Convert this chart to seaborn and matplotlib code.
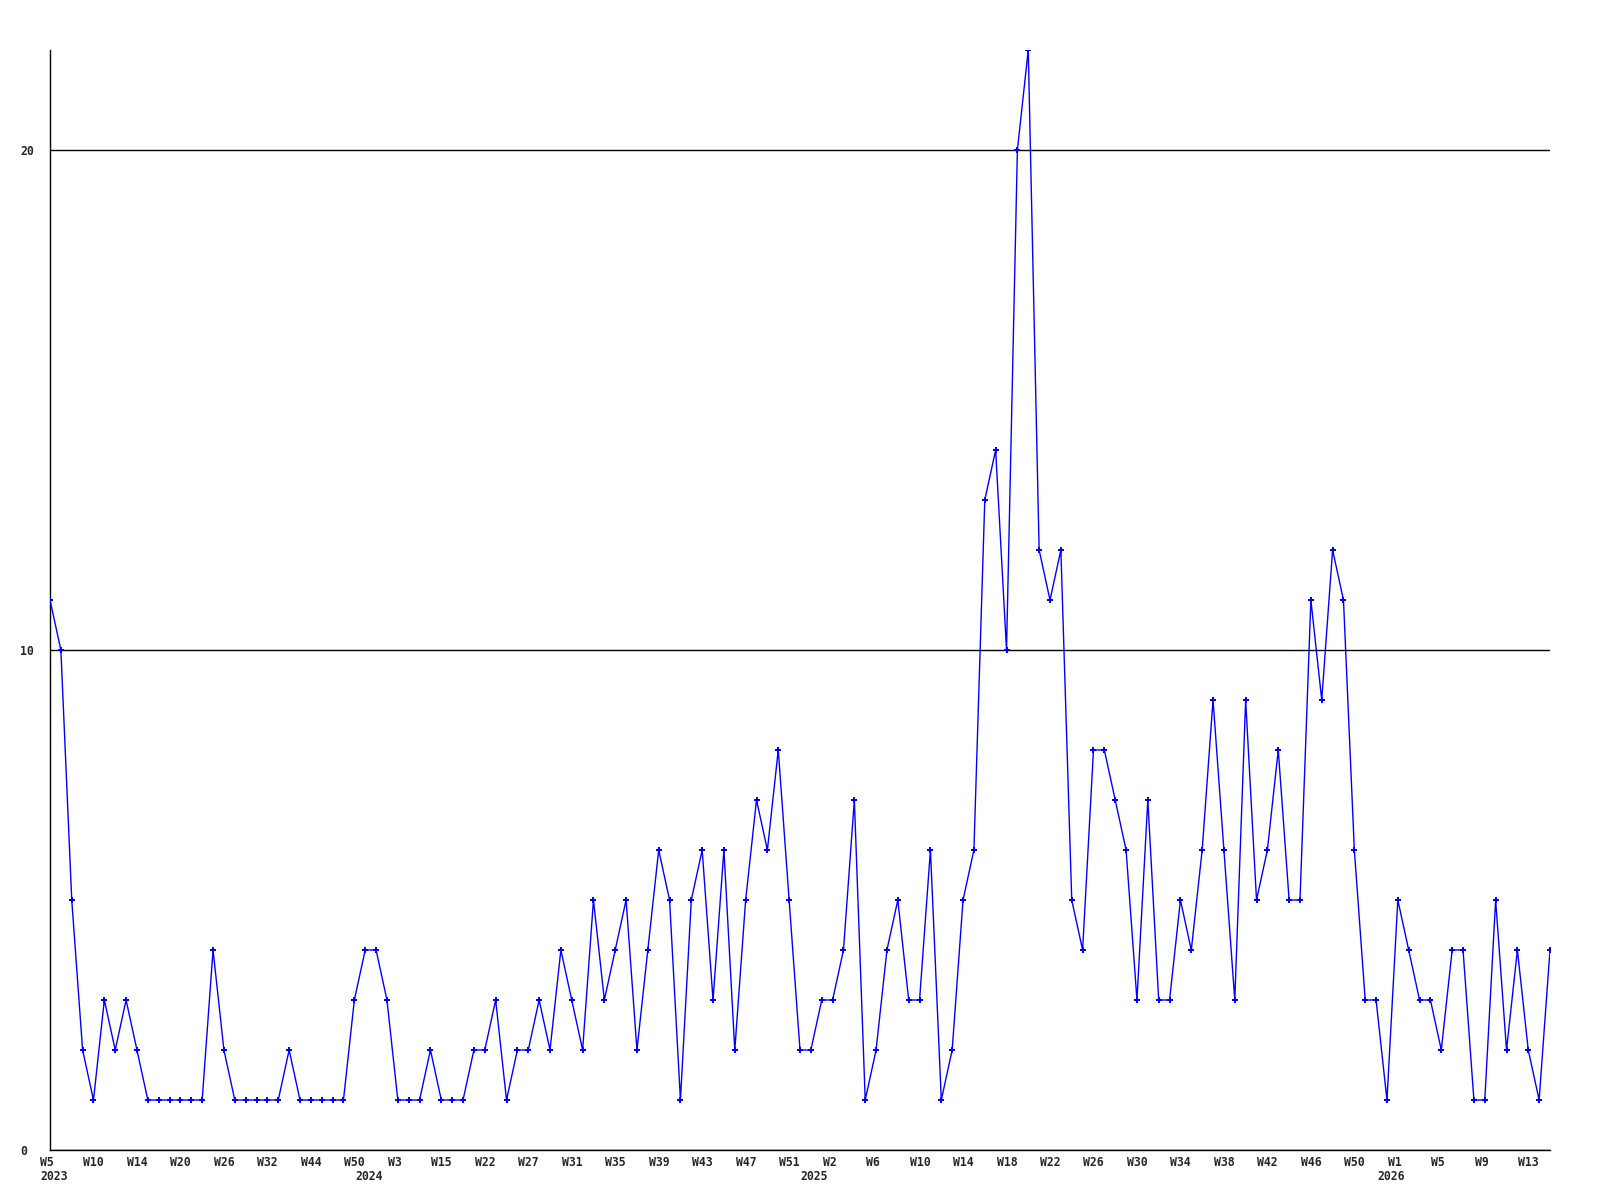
import matplotlib
matplotlib.use("Agg")
import matplotlib.pyplot as plt
import seaborn as sns
import pandas as pd
from matplotlib.transforms import ScaledTranslation, blended_transform_factory

# ---- data (weekly counts, one point per reported week) ----
values = [
    11, 10, 5, 2, 1, 3, 2, 3, 2, 1,
    1, 1, 1, 1, 1, 4, 2, 1, 1, 1,
    1, 1, 2, 1, 1, 1, 1, 1, 3, 4,
    4, 3, 1, 1, 1, 2, 1, 1, 1, 2,
    2, 3, 1, 2, 2, 3, 2, 4, 3, 2,
    5, 3, 4, 5, 2, 4, 6, 5, 1, 5,
    6, 3, 6, 2, 5, 7, 6, 8, 5, 2,
    2, 3, 3, 4, 7, 1, 2, 4, 5, 3,
    3, 6, 1, 2, 5, 6, 13, 14, 10, 20,
    22, 12, 11, 12, 5, 4, 8, 8, 7, 6,
    3, 7, 3, 3, 5, 4, 6, 9, 6, 3,
    9, 5, 6, 8, 5, 5, 11, 9, 12, 11,
    6, 3, 3, 1, 5, 4, 3, 3, 2, 4,
    4, 1, 1, 5, 2, 4, 2, 1, 4,
]
week_tick_labels = [
    "W5", "W10", "W14", "W20", "W26", "W32", "W44", "W50",
    "W3", "W15", "W22", "W27", "W31", "W35", "W39", "W43", "W47", "W51",
    "W2", "W6", "W10", "W14", "W18", "W22", "W26", "W30", "W34", "W38",
    "W42", "W46", "W50",
    "W1", "W5", "W9", "W13",
]
tick_step = 4
year_labels = ["2023", "2024", "2025", "2026"]
year_first_point = [0, 29, 70, 123]
y_ticks = [0, 10, 20]

# ---- style ----
sns.set_style("white")
plt.rcParams["font.family"] = ["DejaVu Sans Mono", "DejaVu Sans"]
FS = 8.3

fig = plt.figure(figsize=(16, 12), dpi=100)
ax = fig.add_axes([50 / 1600, 1 - 1150 / 1200, 1500 / 1600, 1100 / 1200])

df = pd.DataFrame({"idx": range(len(values)), "count": values})
sns.lineplot(data=df, x="idx", y="count", ax=ax, color="#0000ff",
             linewidth=1.0, marker="P", markersize=4.5, markeredgewidth=0,
             zorder=3)

ax.set_xlim(0, len(values) - 1)
ax.set_ylim(0, 22)
ax.set_xlabel("")
ax.set_ylabel("")

ax.set_yticks(y_ticks)
ax.set_yticklabels([str(v) for v in y_ticks], fontsize=FS, fontweight="bold")
ax.set_xticks(list(range(0, len(values), tick_step)))
ax.set_xticklabels(week_tick_labels, fontsize=FS, fontweight="bold")

ax.yaxis.grid(True, color="black", linewidth=1.0)
ax.xaxis.grid(False)

ax.tick_params(axis="x", length=0, pad=4)
ax.tick_params(axis="y", length=0, pad=21.6)

offset = ScaledTranslation(-10 / 100, 0, fig.dpi_scale_trans)
for lbl in ax.get_xticklabels():
    lbl.set_ha("left")
    lbl.set_transform(lbl.get_transform() + offset)
for lbl in ax.get_yticklabels():
    lbl.set_ha("left")

for s in ["top", "right"]:
    ax.spines[s].set_visible(False)
for s in ["left", "bottom"]:
    ax.spines[s].set_color("black")
    ax.spines[s].set_linewidth(1.0)

trans = blended_transform_factory(ax.transData, ax.transAxes) + offset
for lab, i in zip(year_labels, year_first_point):
    ax.text(i, -27 / 1100, lab, transform=trans, ha="left", va="center",
            fontsize=FS, fontweight="bold", clip_on=False)

fig.savefig("out.png", dpi=100)
